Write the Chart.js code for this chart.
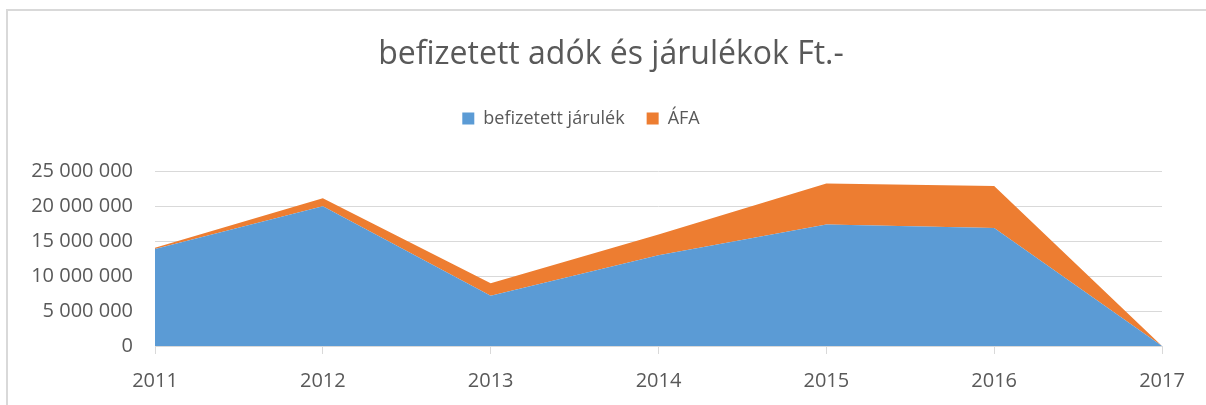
<!DOCTYPE html>
<html>
<head>
<meta charset="utf-8">
<script src="https://cdn.jsdelivr.net/npm/chart.js@4"></script>
<style>
  html, body { margin: 0; padding: 0; background: #fff; overflow: hidden; }
  .frame { position: absolute; left: 6px; top: 9px; width: 1230px; height: 430px; border: 2px solid #d9d9d9; }
  #myChart { position: absolute; left: 0; top: 0; }
</style>
</head>
<body>
<div class="frame"></div>
<canvas id="myChart" width="1206" height="405"></canvas>
<script>
  const years = ['2011', '2012', '2013', '2014', '2015', '2016', '2017'];
  const jarulek = [13900000, 20000000, 7200000, 13000000, 17400000, 16900000, 0];
  const afa = [150000, 1150000, 1800000, 2950000, 5850000, 6000000, 0];
  const yTicks = [0, 5000000, 10000000, 15000000, 20000000, 25000000];

  const fontFam = '"Open Sans", sans-serif';
  const textColor = '#595959';
  const gridColor = '#d9d9d9';

  function fmt(v) {
    return String(v).replace(/\B(?=(\d{3})+(?!\d))/g, ' ');
  }

  // title sits a bit right of the legend in the original
  const shiftTitle = {
    id: 'shiftTitle',
    afterLayout(chart) {
      if (chart.titleBlock) chart.titleBlock.left += 60;
    }
  };

  const ctx = document.getElementById('myChart');

  new Chart(ctx, {
    type: 'line',
    data: {
      labels: years,
      datasets: [
        {
          label: 'befizetett járulék',
          data: jarulek,
          backgroundColor: '#5b9bd5',
          borderColor: '#5b9bd5',
          borderWidth: 0,
          pointRadius: 0,
          fill: 'origin',
          tension: 0
        },
        {
          label: 'ÁFA',
          data: afa,
          backgroundColor: '#ed7d31',
          borderColor: '#ed7d31',
          borderWidth: 0,
          pointRadius: 0,
          fill: '-1',
          tension: 0
        }
      ]
    },
    plugins: [shiftTitle],
    options: {
      responsive: false,
      animation: false,
      layout: {
        padding: { left: 0, right: 44, top: 0, bottom: 0 }
      },
      plugins: {
        title: {
          display: true,
          text: 'befizetett adók és járulékok Ft.-',
          color: textColor,
          font: { family: fontFam, size: 32, weight: 'normal' },
          padding: { top: 36, bottom: 13 }
        },
        legend: {
          display: true,
          labels: {
            color: textColor,
            font: { family: fontFam, size: 18 },
            boxWidth: 12,
            boxHeight: 12,
            padding: 22
          }
        },
        tooltip: { enabled: false }
      },
      scales: {
        x: {
          offset: false,
          afterFit: function (axis) {
            axis.height = 59;
          },
          grid: {
            drawOnChartArea: false,
            drawTicks: true,
            tickLength: 8,
            color: gridColor
          },
          border: { color: gridColor, width: 1 },
          ticks: {
            color: textColor,
            font: { family: fontFam, size: 20 },
            padding: 15,
            maxRotation: 0
          }
        },
        // empty spacer between legend and plot
        gap: {
          type: 'category',
          position: 'top',
          afterFit: function (axis) {
            axis.height = 34;
          },
          grid: { display: false },
          border: { display: false },
          ticks: { display: false }
        },
        y: {
          stacked: true,
          min: 0,
          max: 25000000,
          afterBuildTicks: function (axis) {
            axis.ticks = yTicks.map(v => ({ value: v }));
          },
          afterFit: function (axis) {
            axis.width = 155;
          },
          grid: {
            color: gridColor,
            drawTicks: false
          },
          border: { display: false },
          ticks: {
            color: textColor,
            font: { family: fontFam, size: 20 },
            padding: 22,
            callback: function (v) { return fmt(v); }
          }
        }
      }
    }
  });
</script>
</body>
</html>
